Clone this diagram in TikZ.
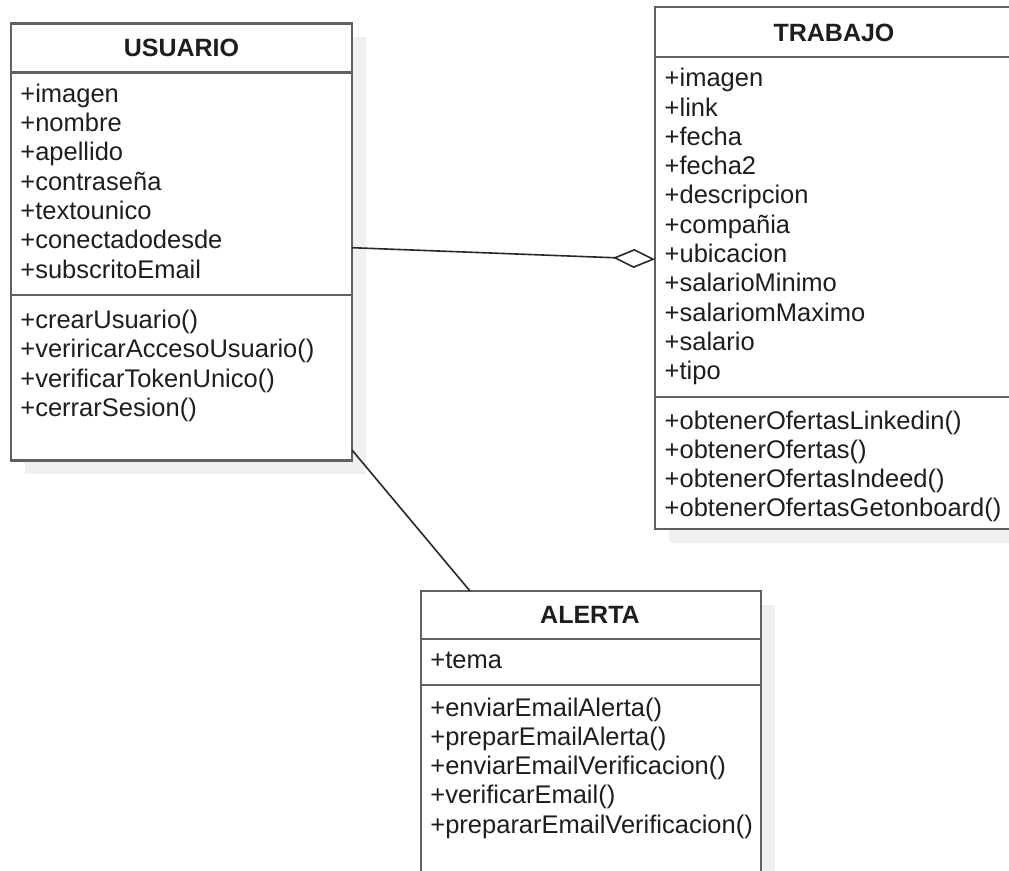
\documentclass[tikz,border=0pt]{standalone}
\usepackage{fontspec}
\setmainfont{Liberation Sans}
\usetikzlibrary{arrows.meta,shadows}

\definecolor{umlborder}{RGB}{96,96,96}
\definecolor{umlshadow}{RGB}{240,240,240}
\definecolor{umltext}{RGB}{30,30,30}
\definecolor{umlline}{RGB}{40,40,40}

\begin{document}
\begin{tikzpicture}[x=1pt,y=-1pt,
  classbox/.style={draw=umlborder, line width=2.4pt, fill=white,
    inner sep=0pt, outer sep=0pt, anchor=north west,
    drop shadow={shadow xshift=14pt, shadow yshift=-13.5pt,
      fill=umlshadow, opacity=1, draw=none}},
  sepline/.style={draw=umlborder, line width=2.4pt},
  member/.style={inner sep=0pt, anchor=base west, text=umltext,
    font=\fontsize{25.5}{29}\selectfont},
  classtitle/.style={inner sep=0pt, anchor=base, text=umltext,
    font=\fontsize{25}{29}\selectfont\bfseries},
  assoc/.style={draw=umlline, line width=1.6pt},
]
\useasboundingbox (0,0) rectangle (1009,870);
\clip (0,0) rectangle (1009,870);

% ---------- class boxes ----------
\node[classbox, minimum width=341pt, minimum height=437pt] (usuario) at (11,23.5) {};
\node[classbox, minimum width=358pt, minimum height=522pt] (trabajo) at (655,7) {};
\node[classbox, minimum width=340pt, minimum height=309pt] (alerta) at (421,591) {};

% ---------- compartment separators ----------
\draw[sepline] ([yshift=-48.8pt]usuario.north west) -- ([yshift=-48.8pt]usuario.north east);
\draw[sepline] ([yshift=-271.5pt]usuario.north west) -- ([yshift=-271.5pt]usuario.north east);
\draw[sepline] ([yshift=-50pt]trabajo.north west) -- ([yshift=-50pt]trabajo.north east);
\draw[sepline] ([yshift=-390pt]trabajo.north west) -- ([yshift=-390pt]trabajo.north east);
\draw[sepline] ([yshift=-48pt]alerta.north west) -- ([yshift=-48pt]alerta.north east);
\draw[sepline] ([yshift=-94pt]alerta.north west) -- ([yshift=-94pt]alerta.north east);

% ---------- USUARIO ----------
\node[classtitle] (ut) at (181.5,56.7) {USUARIO};
\foreach \t [count=\i from 0] in {+imagen,+nombre,+apellido,+contraseña,+textounico,+conectadodesde,+subscritoEmail}
  \node[member] (ua\i) at (20.2,102.3+29.3*\i) {\t};
\foreach \t [count=\i from 0] in {+crearUsuario(),+veriricarAccesoUsuario(),+verificarTokenUnico(),+cerrarSesion()}
  \node[member] (um\i) at (20.2,328.5+29.3*\i) {\t};

% ---------- TRABAJO ----------
\node[classtitle] (tt) at (834,41.7) {TRABAJO};
\foreach \t [count=\i from 0] in {+imagen,+link,+fecha,+fecha2,+descripcion,+compañia,+ubicacion,+salarioMinimo,+salariomMaximo,+salario,+tipo}
  \node[member] (ta\i) at (664.5,86.7+29.3*\i) {\t};
\foreach \t [count=\i from 0] in {+obtenerOfertasLinkedin(),+obtenerOfertas(),+obtenerOfertasIndeed(),+obtenerOfertasGetonboard()}
  \node[member] (tm\i) at (664.5,429.5+29.1*\i) {\t};

% ---------- ALERTA ----------
\node[classtitle] (at) at (590,623.3) {ALERTA};
\node[member] (aa0) at (430.2,668) {+tema};
\foreach \t [count=\i from 0] in {+enviarEmailAlerta(),+preparEmailAlerta(),+enviarEmailVerificacion(),+verificarEmail(),+prepararEmailVerificacion()}
  \node[member] (am\i) at (430.2,716+29.3*\i) {\t};

% ---------- relations ----------
\draw[assoc, -{Diamond[open, length=42pt, width=19pt]}]
  ([yshift=-5.7pt]usuario.east) -- ([yshift=8.7pt]trabajo.west);
\draw[assoc] ([yshift=10.5pt]usuario.south east) -- ([xshift=-121pt]alerta.north);
\end{tikzpicture}
\end{document}
